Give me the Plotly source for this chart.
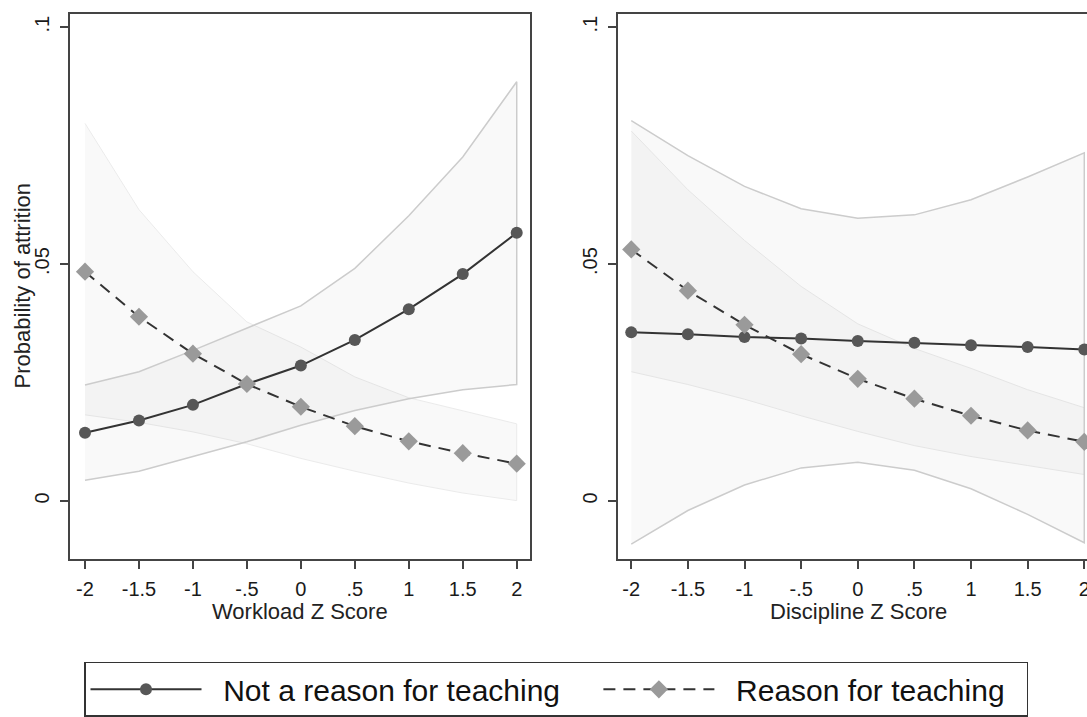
import plotly.graph_objects as go

# ---------------- data ----------------
z_scores = [-2, -1.5, -1, -0.5, 0, 0.5, 1, 1.5, 2]
x_tick_labels = ["-2", "-1.5", "-1", "-.5", "0", ".5", "1", "1.5", "2"]
y_tick_vals = [0, 0.05, 0.1]
y_tick_labels = ["0", ".05", ".1"]

series_names = ["Not a reason for teaching", "Reason for teaching"]

# Workload panel
wl_not = [0.0144, 0.0170, 0.0203, 0.0247, 0.0286, 0.0340, 0.0405, 0.0479, 0.0566]
wl_not_lo = [0.0044, 0.0063, 0.0094, 0.0125, 0.0160, 0.0191, 0.0216, 0.0235, 0.0246]
wl_not_hi = [0.0245, 0.0273, 0.0318, 0.0365, 0.0412, 0.0491, 0.0602, 0.0726, 0.0885]
wl_rsn = [0.0484, 0.0389, 0.0311, 0.0247, 0.0199, 0.0158, 0.0126, 0.0101, 0.0079]
wl_rsn_lo = [0.0182, 0.0166, 0.0146, 0.0121, 0.0090, 0.0063, 0.0038, 0.0017, 0.0001]
wl_rsn_hi = [0.0797, 0.0615, 0.0484, 0.0378, 0.0325, 0.0262, 0.0218, 0.0191, 0.0163]

# Discipline panel
ds_not = [0.0356, 0.0352, 0.0346, 0.0343, 0.0338, 0.0334, 0.0329, 0.0325, 0.0320]
ds_not_lo = [-0.0091, -0.0020, 0.0034, 0.0070, 0.0082, 0.0065, 0.0026, -0.0028, -0.0088]
ds_not_hi = [0.0803, 0.0729, 0.0664, 0.0617, 0.0597, 0.0604, 0.0636, 0.0684, 0.0735]
ds_rsn = [0.0531, 0.0444, 0.0372, 0.0310, 0.0258, 0.0216, 0.0180, 0.0149, 0.0125]
ds_rsn_lo = [0.0273, 0.0246, 0.0215, 0.0180, 0.0147, 0.0117, 0.0094, 0.0075, 0.0056]
ds_rsn_hi = [0.0781, 0.0657, 0.0550, 0.0453, 0.0374, 0.0322, 0.0280, 0.0235, 0.0197]

# ---------------- styles ----------------
FONT = "Arial, Liberation Sans, sans-serif"
BAND_FILL = "rgba(0,0,0,0.024)"
NOT_BAND_LINE = "#cccccc"
RSN_BAND_LINE = "#ebebeb"
LINE_COLOR = "#333333"
NOT_MARKER = "#575757"
RSN_MARKER = "#9a9a9a"
FRAME = "#444444"
NBSP = "\u00a0"

fig = go.Figure()


def band(xa, ya, lo, hi, line_color, width):
    fig.add_trace(go.Scatter(
        x=z_scores + z_scores[::-1], y=hi + lo[::-1],
        xaxis=xa, yaxis=ya, mode="lines", fill="toself",
        fillcolor=BAND_FILL, line=dict(color=line_color, width=width),
        showlegend=False, hoverinfo="skip"))


def series(xa, ya, vals, kind, show):
    if kind == 0:
        fig.add_trace(go.Scatter(
            x=z_scores, y=vals, xaxis=xa, yaxis=ya, mode="lines+markers",
            name=NBSP * 2 + series_names[0] + NBSP * 4, showlegend=show, legendrank=1,
            line=dict(color=LINE_COLOR, width=2),
            marker=dict(symbol="circle", size=12, color=NOT_MARKER)))
    else:
        fig.add_trace(go.Scatter(
            x=z_scores, y=vals, xaxis=xa, yaxis=ya, mode="lines+markers",
            name=NBSP * 2 + series_names[1] + NBSP * 2, showlegend=show, legendrank=2,
            line=dict(color=LINE_COLOR, width=2, dash="12px,8px"),
            marker=dict(symbol="diamond", size=14, color=RSN_MARKER)))


# left panel
band("x", "y", wl_rsn_lo, wl_rsn_hi, RSN_BAND_LINE, 1)
band("x", "y", wl_not_lo, wl_not_hi, NOT_BAND_LINE, 1.5)
series("x", "y", wl_not, 0, True)
series("x", "y", wl_rsn, 1, True)

# right panel
band("x2", "y2", ds_rsn_lo, ds_rsn_hi, RSN_BAND_LINE, 1)
band("x2", "y2", ds_not_lo, ds_not_hi, NOT_BAND_LINE, 1.5)
series("x2", "y2", ds_not, 0, False)
series("x2", "y2", ds_rsn, 1, False)

W, H = 1087, 717
ydom = [(H - 569) / H, (H - 14.3) / H]

xcommon = dict(
    tickvals=z_scores, ticktext=x_tick_labels, ticks="outside", ticklen=8,
    tickwidth=1.5, tickcolor=FRAME, showline=True, linecolor=FRAME,
    linewidth=2, mirror=True, showgrid=False, zeroline=False,
    ticklabelstandoff=3, ticklabeloverflow="allow",
    tickfont=dict(family=FONT, size=20, color="#1a1a1a"), automargin=False)
ycommon = dict(
    range=[-0.01216, 0.10278], tickvals=y_tick_vals, ticktext=y_tick_labels,
    ticks="outside", ticklen=8, tickwidth=1.5, tickcolor=FRAME,
    showline=True, linecolor=FRAME, linewidth=2, showgrid=False,
    zeroline=False, tickangle=-90, domain=ydom, ticklabelstandoff=3,
    tickfont=dict(family=FONT, size=20, color="#1a1a1a"), automargin=False)

fig.update_layout(
    width=W, height=H,
    margin=dict(l=0, r=0, t=0, b=0),
    paper_bgcolor="white", plot_bgcolor="white",
    font=dict(family=FONT, color="#1a1a1a"),
    xaxis=dict(domain=[70 / W, 530 / W], range=[-2.139, 2.123], anchor="y", **xcommon),
    yaxis=dict(anchor="x", mirror=True, **ycommon),
    xaxis2=dict(domain=[618 / W, 1.0], range=[-2.117, 2.024], anchor="y2", **xcommon),
    yaxis2=dict(anchor="x2", mirror=False, **ycommon),
    legend=dict(
        orientation="h", x=84 / W, y=(H - 674) / H, xanchor="left", yanchor="top",
        bordercolor="#333333", borderwidth=1.5, bgcolor="white",
        font=dict(family=FONT, size=30, color="#111111"),
        itemwidth=111, traceorder="normal"),
    annotations=[
        dict(text="Workload Z Score", xref="paper", yref="paper",
             x=300 / W, y=(H - 623) / H, xanchor="center", yanchor="middle",
             showarrow=False, font=dict(family=FONT, size=22, color="#222222")),
        dict(text="Discipline Z Score", xref="paper", yref="paper",
             x=858.7 / W, y=(H - 623) / H, xanchor="center", yanchor="middle",
             showarrow=False, font=dict(family=FONT, size=22, color="#222222")),
        dict(text="Probability of attrition", xref="paper", yref="paper",
             x=22 / W, y=(H - 291.7) / H, xanchor="center", yanchor="middle",
             showarrow=False, textangle=-90,
             font=dict(family=FONT, size=22, color="#222222")),
    ],
)

fig.write_html("out.html", config={"displayModeBar": False},
               post_script="document.body.style.margin='0px';")
